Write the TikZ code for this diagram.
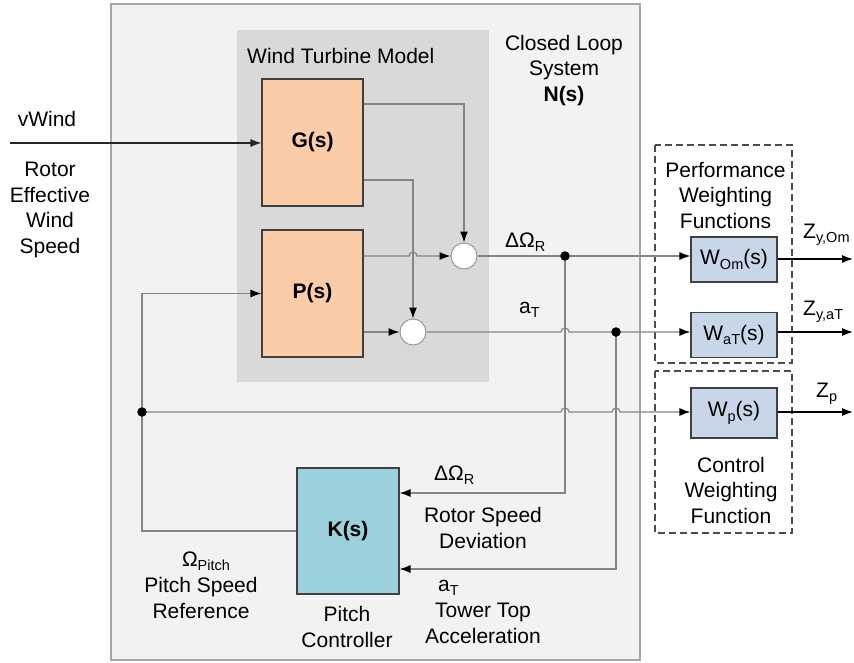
\documentclass[tikz,border=0pt]{standalone}
\usepackage{fontspec}
\setmainfont{Liberation Sans}
\usetikzlibrary{arrows.meta,calc}
\definecolor{outerbg}{HTML}{F2F2F2}
\definecolor{outerln}{HTML}{A6A6A6}
\definecolor{modelbg}{HTML}{D9D9D9}
\definecolor{plantfill}{HTML}{FBCCA8}
\definecolor{ctrlfill}{HTML}{9BD0DD}
\definecolor{wfill}{HTML}{C7D6E8}
\definecolor{wirecol}{HTML}{858585}
\definecolor{boxln}{HTML}{404040}
% small lowered index used in signal names
\newcommand\sbs[1]{\raisebox{-0.4ex}{\fontsize{14.5}{14.5}\selectfont #1}}
\begin{document}
\begin{tikzpicture}[x=1pt,y=-1pt,
  txt/.style={font=\fontsize{21}{25.5}\selectfont, inner sep=0pt, align=center},
  blk/.style={draw=boxln, line width=1.1pt, minimum width=101pt, minimum height=127pt,
    inner sep=0pt, font=\fontsize{21}{25}\selectfont\bfseries},
  wblk/.style={draw=boxln, line width=1.1pt, fill=wfill, minimum width=86pt,
    inner sep=0pt, font=\fontsize{21}{25}\selectfont},
  sumc/.style={circle, draw=black!40, fill=white, minimum size=26pt, inner sep=0pt, line width=1pt},
  dot/.style={circle, fill=black, minimum size=9.5pt, inner sep=0pt},
  wire/.style={draw=wirecol, line width=1.2pt},
  arr/.style={wire, -{Latex[length=11pt,width=8pt,color=black]}},
  outarr/.style={draw=black, line width=1.2pt, -{Latex[length=11pt,width=8pt]}},
  grp/.style={draw=black!70, line width=1.1pt, dash pattern=on 7pt off 4pt}
]
\useasboundingbox (0,0) rectangle (854,662);

% closed loop system and wind turbine model regions
\filldraw[fill=outerbg, draw=outerln, line width=1.3pt] (111,4) rectangle (640,660);
\fill[modelbg] (237,30) rectangle (489,382);

% weighting function groups
\draw[grp] (655,145) rectangle (792,363);
\draw[grp] (655,371) rectangle (792,533);

% blocks
\node[blk, fill=plantfill] (G) at (312.5,142.5) {G(s)};
\node[blk, fill=plantfill] (P) at (312.5,293.5) {P(s)};
\node[blk, fill=ctrlfill, minimum width=102pt, minimum height=126pt] (K) at (348,531) {K(s)};
\node[sumc] (c1) at (464,256) {};
\node[sumc] (c2) at (413,332) {};
\node[wblk, minimum height=45pt] (Wom) at (734,259.5) {W\sbs{Om}(s)};
\node[wblk, minimum height=45pt] (Wat) at (734,335) {W\sbs{aT}(s)};
\node[wblk, minimum height=50pt] (Wp) at (734,413) {W\sbs{p}(s)};

% branch points and free ends
\coordinate (d1) at (565,256);
\coordinate (d2) at (616,332);
\coordinate (d3) at (142,412);
\coordinate (vin) at (10,143);
\coordinate (zo1) at (853,259);
\coordinate (zo2) at (853,332);
\coordinate (zo3) at (853,412);

% wind input
\draw[draw=black!85, line width=1.2pt, -{Latex[length=11pt,width=8pt]}] (vin) -- (vin -| G.west);

% plant outputs to summing points
\draw[arr] ([yshift=38.5pt]G.east) -| (c1.north);
\draw[arr] ([yshift=-37.5pt]G.east) -| (c2.north);
\draw[arr] (P.east |- c1) -- ([xshift=-4pt]c2.north |- c1)
  arc[start angle=180, end angle=0, radius=4pt] -- (c1.west);
\draw[arr] (P.east |- c2) -- (c2.west);

% measured signals to the weighting functions
\draw[arr] (c1.east) -- (c1 -| Wom.west);
\draw[arr] (c2.east) -- ([xshift=-4pt]d1 |- c2)
  arc[start angle=180, end angle=0, radius=4pt] -- (c2 -| Wat.west);

% feedback to the controller
\draw[arr] (d1) |- ([yshift=38pt]K.east);
\draw[arr] (d2) |- ([yshift=-38pt]K.east);

% controller output back to the plant
\draw[arr] (K.west) -| (d3) |- (P.west);
\draw[arr] (d3) -- ([xshift=-4pt]d1 |- d3)
  arc[start angle=180, end angle=0, radius=4pt] -- ([xshift=-4pt]d2 |- d3)
  arc[start angle=180, end angle=0, radius=4pt] -- (d3 -| Wp.west);

% weighted outputs
\draw[outarr] (Wom.east |- zo1) -- (zo1);
\draw[outarr] (Wat.east |- zo2) -- (zo2);
\draw[outarr] (Wp.east |- zo3) -- (zo3);

\node[dot] at (d1) {};
\node[dot] at (d2) {};
\node[dot] at (d3) {};

% labels (base = baseline of the last line)
\node[txt, anchor=base] (lvw) at (47,126) {vWind};
\node[txt, anchor=base] (lrew) at (50,253) {Rotor\\Effective\\Wind\\Speed};
\node[txt, anchor=base west] (lwtm) at (247,63) {Wind Turbine Model};
\node[txt, anchor=base] (lcls) at (564,101) {Closed Loop\\System\\\textbf{N(s)}};
\node[txt, anchor=base west] (ldo1) at (505,247) {ΔΩ\sbs{R}};
\node[txt, anchor=base west] (lat1) at (519,313) {a\sbs{T}};
\node[txt, anchor=base] (lpwf) at (725.5,228) {Performance\\Weighting\\Functions};
\node[txt, anchor=base west] (lz1) at (803,238) {Z\sbs{y,Om}};
\node[txt, anchor=base west] (lz2) at (803,315) {Z\sbs{y,aT}};
\node[txt, anchor=base west] (lz3) at (816,397) {Z\sbs{p}};
\node[txt, anchor=base] (lcwf) at (731,523) {Control\\Weighting\\Function};
\node[txt, anchor=base west] (ldo2) at (434,480) {ΔΩ\sbs{R}};
\node[txt, anchor=base] (lrsd) at (483,548) {Rotor Speed\\Deviation};
\node[txt, anchor=base west] (lat2) at (438,591) {a\sbs{T}};
\node[txt, anchor=base] (ltta) at (483,643) {Tower Top\\Acceleration};
\node[txt, anchor=base] (lop) at (206,566) {Ω\sbs{Pitch}};
\node[txt, anchor=base] (lpsr) at (201,618) {Pitch Speed\\Reference};
\node[txt, anchor=base] (lpc) at (347,647) {Pitch\\Controller};
\end{tikzpicture}
\end{document}
